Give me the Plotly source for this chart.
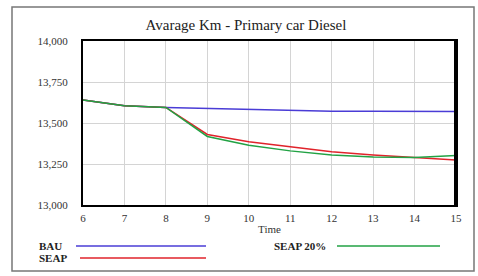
import plotly.graph_objects as go

time = [6, 7, 8, 9, 10, 11, 12, 13, 14, 15]
bau = [13640, 13605, 13595, 13590, 13582, 13578, 13572, 13572, 13572, 13570]
seap = [13640, 13605, 13595, 13430, 13385, 13355, 13325, 13305, 13290, 13275]
seap20 = [13640, 13605, 13595, 13418, 13365, 13330, 13305, 13292, 13290, 13302]

y_ticks = [13000, 13250, 13500, 13750, 14000]
y_labels = ["13,000", "13,250", "13,500", "13,750", "14,000"]

C_BAU = "#4a3cd6"
C_SEAP = "#e0232b"
C_S20 = "#22a244"

W, H = 478, 276
L, R, T, B = 83, 22, 41, 71
PW, PH = W - L - R, H - T - B

def px(x):
    return (x - L) / PW

def py(y):
    return (H - B - y) / PH

fig = go.Figure()
for name, vals, col in [("BAU", bau, C_BAU), ("SEAP", seap, C_SEAP), ("SEAP 20%", seap20, C_S20)]:
    fig.add_trace(go.Scatter(x=time, y=vals, mode="lines", name=name,
                             line=dict(color=col, width=1.5), showlegend=False))

font = "Liberation Serif, DejaVu Serif, serif"
shapes = [
    dict(type="rect", xref="paper", yref="paper", x0=px(12), x1=px(474), y0=py(271), y1=py(7),
         line=dict(color="#777777", width=1.5), layer="below"),
    dict(type="line", xref="paper", yref="paper", x0=1, x1=1, y0=0, y1=1,
         line=dict(color="black", width=4)),
    dict(type="line", xref="paper", yref="paper", x0=px(76), x1=px(206), y0=py(246), y1=py(246),
         line=dict(color=C_BAU, width=1.5)),
    dict(type="line", xref="paper", yref="paper", x0=px(80), x1=px(206), y0=py(258), y1=py(258),
         line=dict(color=C_SEAP, width=1.5)),
    dict(type="line", xref="paper", yref="paper", x0=px(337), x1=px(440), y0=py(246), y1=py(246),
         line=dict(color=C_S20, width=1.5)),
]
annotations = [
    dict(text="<b>BAU</b>", xref="paper", yref="paper", x=px(37), y=py(246), xanchor="left", yanchor="middle",
         showarrow=False, font=dict(family=font, size=11, color="#222")),
    dict(text="<b>SEAP</b>", xref="paper", yref="paper", x=px(37), y=py(258), xanchor="left", yanchor="middle",
         showarrow=False, font=dict(family=font, size=11, color="#222")),
    dict(text="<b>SEAP 20%</b>", xref="paper", yref="paper", x=px(272), y=py(246), xanchor="left", yanchor="middle",
         showarrow=False, font=dict(family=font, size=11, color="#222")),
]

fig.update_layout(
    width=W, height=H,
    margin=dict(l=L, r=R, t=T, b=B),
    paper_bgcolor="white", plot_bgcolor="white",
    title=dict(text="Avarage Km - Primary car Diesel", xref="container", x=246 / W, xanchor="center",
               yref="container", y=1 - 25 / H, yanchor="middle",
               font=dict(family=font, size=15, color="#222")),
    xaxis=dict(range=[6, 15], tickvals=time, ticktext=[str(t) for t in time],
               showgrid=True, gridcolor="#d4d4d4", gridwidth=1,
               showline=True, linecolor="black", linewidth=2, mirror=True,
               ticks="outside", ticklen=2, tickcolor="rgba(0,0,0,0)",
               tickfont=dict(family=font, size=11, color="#333"),
               title=dict(text="Time", font=dict(family=font, size=11, color="#333"), standoff=2),
               zeroline=False),
    yaxis=dict(range=[13000, 14000], tickvals=y_ticks, ticktext=y_labels,
               showgrid=True, gridcolor="#d4d4d4", gridwidth=1,
               showline=True, linecolor="black", linewidth=2, mirror=True,
               ticks="outside", ticklen=11, tickcolor="rgba(0,0,0,0)",
               tickfont=dict(family=font, size=11, color="#333"),
               zeroline=False),
    shapes=shapes, annotations=annotations,
)

fig.write_html("out.html", config={"displayModeBar": False},
               post_script="document.body.style.margin='0';")
